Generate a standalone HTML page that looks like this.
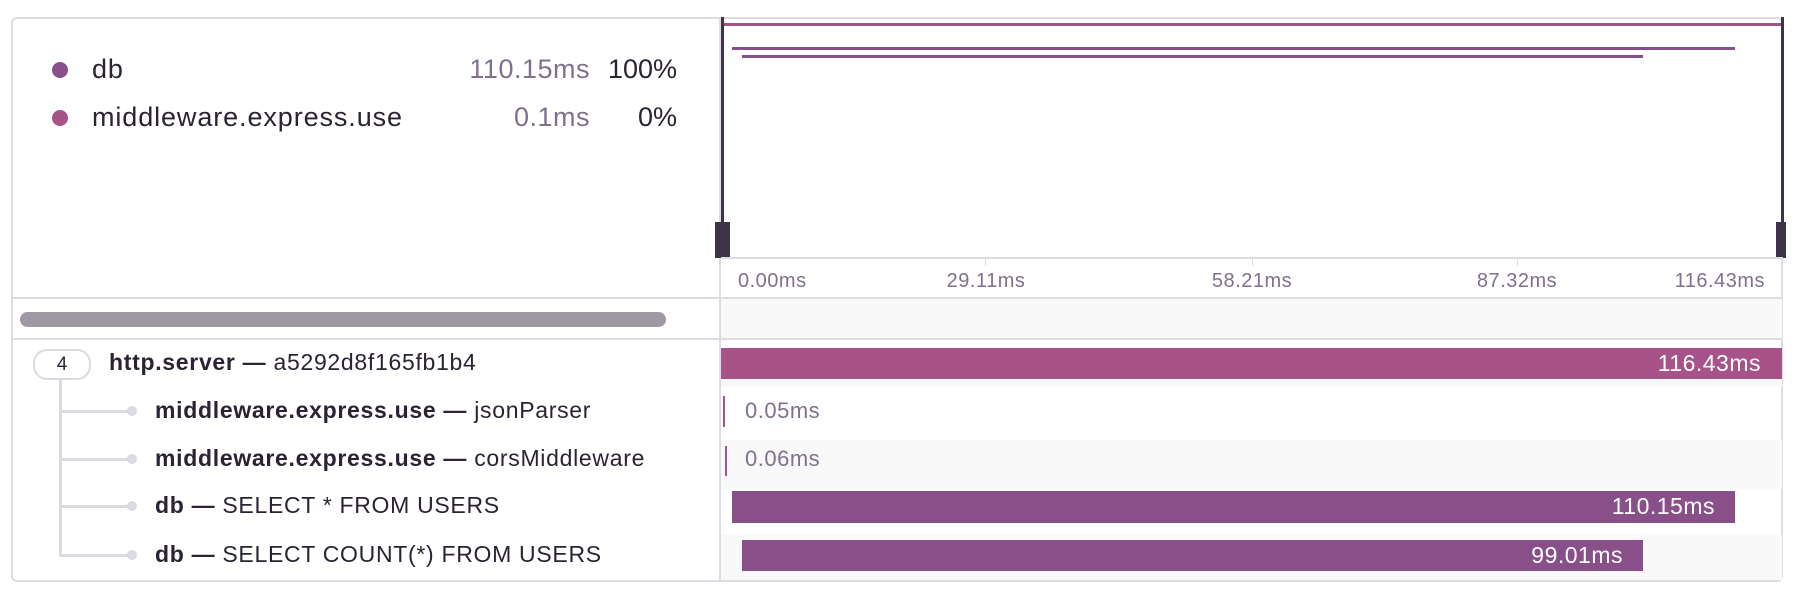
<!DOCTYPE html>
<html><head><style>
*{margin:0;padding:0;box-sizing:border-box}
body{width:1800px;height:594px;background:#fff;font-family:"Liberation Sans",sans-serif;position:relative;overflow:hidden;color:#2b2233}
.a{position:absolute}
.t{white-space:nowrap;line-height:1}
</style></head><body>
<div class="a" style="left:11px;top:17px;width:1772px;height:565px;border:2px solid #dedbe3;border-radius:6px"></div>
<div class="a" style="left:719px;top:17px;width:2px;height:565px;background:#dedbe3"></div>
<!-- legend -->
<div class="a" style="left:52px;top:62px;width:16px;height:16px;border-radius:50%;background:#884f88"></div>
<div class="a t" style="left:92px;top:56px;font-size:27px;letter-spacing:0.9px">db</div>
<div class="a t" style="left:390px;width:200px;text-align:right;top:56px;font-size:27px;letter-spacing:0.5px;color:#80708f">110.15ms</div>
<div class="a t" style="left:580px;width:97px;text-align:right;top:56px;font-size:27px">100%</div>
<div class="a" style="left:52px;top:110px;width:16px;height:16px;border-radius:50%;background:#a8528a"></div>
<div class="a t" style="left:92px;top:104px;font-size:27px;letter-spacing:0.9px">middleware.express.use</div>
<div class="a t" style="left:390px;width:200px;text-align:right;top:104px;font-size:27px;letter-spacing:0.5px;color:#80708f">0.1ms</div>
<div class="a t" style="left:580px;width:97px;text-align:right;top:104px;font-size:27px">0%</div>
<!-- minimap -->
<div class="a" style="left:722px;top:23px;width:1060px;height:3px;background:#a8528a"></div>
<div class="a" style="left:732px;top:47px;width:1003px;height:3px;background:#884f88"></div>
<div class="a" style="left:742px;top:55px;width:901px;height:3px;background:#884f88"></div>
<div class="a" style="left:721px;top:17px;width:3px;height:241px;background:#3e3446"></div>
<div class="a" style="left:715px;top:222px;width:15px;height:36px;background:#3e3446"></div>
<div class="a" style="left:1781px;top:17px;width:3px;height:241px;background:#3e3446"></div>
<div class="a" style="left:1776px;top:222px;width:10px;height:36px;background:#3e3446"></div>
<div class="a" style="left:721px;top:257px;width:1062px;height:2px;background:#dedbe3"></div>
<div class="a" style="left:985px;top:258px;width:1px;height:8px;background:#dedbe3"></div>
<div class="a" style="left:1252px;top:258px;width:1px;height:8px;background:#dedbe3"></div>
<div class="a" style="left:1517px;top:258px;width:1px;height:8px;background:#dedbe3"></div>
<div class="a t" style="left:738px;top:271px;font-size:20px;letter-spacing:0.5px;color:#80708f">0.00ms</div>
<div class="a t" style="left:886px;width:200px;text-align:center;top:271px;font-size:20px;letter-spacing:0.5px;color:#80708f">29.11ms</div>
<div class="a t" style="left:1152px;width:200px;text-align:center;top:271px;font-size:20px;letter-spacing:0.5px;color:#80708f">58.21ms</div>
<div class="a t" style="left:1417px;width:200px;text-align:center;top:271px;font-size:20px;letter-spacing:0.5px;color:#80708f">87.32ms</div>
<div class="a t" style="left:1565px;width:200px;text-align:right;top:271px;font-size:20px;letter-spacing:0.5px;color:#80708f">116.43ms</div>
<!-- scrollbar row -->
<div class="a" style="left:13px;top:297px;width:1769px;height:2px;background:#dedbe3"></div>
<div class="a" style="left:721px;top:299px;width:1061px;height:39px;background:#f9f9fa"></div>
<div class="a" style="left:13px;top:338px;width:1769px;height:2px;background:#dedbe3"></div>
<div class="a" style="left:20px;top:312px;width:646px;height:15px;border-radius:8px;background:#9e98a3"></div>
<!-- row bgs -->
<div class="a" style="left:721px;top:440px;width:1061px;height:49px;background:#f9f9fa"></div>
<div class="a" style="left:721px;top:535px;width:1061px;height:45px;background:#f9f9fa"></div>
<div class="a" style="left:721px;top:379px;width:1061px;height:8px;background:#f9f9fa"></div>
<!-- bars -->
<div class="a" style="left:721px;top:348px;width:1061px;height:31px;background:#a8528a"></div>
<div class="a t" style="left:1561px;width:200px;text-align:right;top:352px;font-size:23px;letter-spacing:0.5px;color:#fff">116.43ms</div>
<div class="a" style="left:723px;top:396px;width:2px;height:31px;background:#a8528a"></div>
<div class="a t" style="left:745px;top:400px;font-size:22px;letter-spacing:0.5px;color:#80708f">0.05ms</div>
<div class="a" style="left:725px;top:446px;width:2px;height:30px;background:#a8528a"></div>
<div class="a t" style="left:745px;top:448px;font-size:22px;letter-spacing:0.5px;color:#80708f">0.06ms</div>
<div class="a" style="left:732px;top:491px;width:1003px;height:32px;background:#884f88"></div>
<div class="a t" style="left:1515px;width:200px;text-align:right;top:495px;font-size:23px;letter-spacing:0.5px;color:#fff">110.15ms</div>
<div class="a" style="left:742px;top:540px;width:901px;height:31px;background:#884f88"></div>
<div class="a t" style="left:1423px;width:200px;text-align:right;top:544px;font-size:23px;letter-spacing:0.5px;color:#fff">99.01ms</div>
<!-- tree -->
<div class="a" style="left:59px;top:379px;width:3px;height:177px;background:#dcd9e0"></div>
<div class="a" style="left:59px;top:410px;width:72px;height:3px;background:#dcd9e0"></div>
<div class="a" style="left:59px;top:458px;width:72px;height:3px;background:#dcd9e0"></div>
<div class="a" style="left:59px;top:505px;width:72px;height:3px;background:#dcd9e0"></div>
<div class="a" style="left:59px;top:554px;width:72px;height:3px;background:#dcd9e0"></div>
<div class="a" style="left:127px;top:406px;width:10px;height:10px;border-radius:50%;background:#dcd9e0"></div>
<div class="a" style="left:127px;top:454px;width:10px;height:10px;border-radius:50%;background:#dcd9e0"></div>
<div class="a" style="left:127px;top:501px;width:10px;height:10px;border-radius:50%;background:#dcd9e0"></div>
<div class="a" style="left:127px;top:550px;width:10px;height:10px;border-radius:50%;background:#dcd9e0"></div>
<div class="a" style="left:33px;top:349px;width:58px;height:31px;border:2px solid #dcd9e0;border-radius:14px;background:#fff;text-align:center;font-size:19px;line-height:27px">4</div>
<div class="a t" style="left:109px;top:351px;font-size:23px;letter-spacing:0.7px"><b>http.server —</b> a5292d8f165fb1b4</div>
<div class="a t" style="left:155px;top:399px;font-size:23px;letter-spacing:0.7px"><b>middleware.express.use —</b> jsonParser</div>
<div class="a t" style="left:155px;top:447px;font-size:23px;letter-spacing:0.7px"><b>middleware.express.use —</b> corsMiddleware</div>
<div class="a t" style="left:155px;top:494px;font-size:23px;letter-spacing:0.7px"><b>db —</b> SELECT * FROM USERS</div>
<div class="a t" style="left:155px;top:543px;font-size:23px;letter-spacing:0.7px"><b>db —</b> SELECT COUNT(*) FROM USERS</div>
</body></html>
